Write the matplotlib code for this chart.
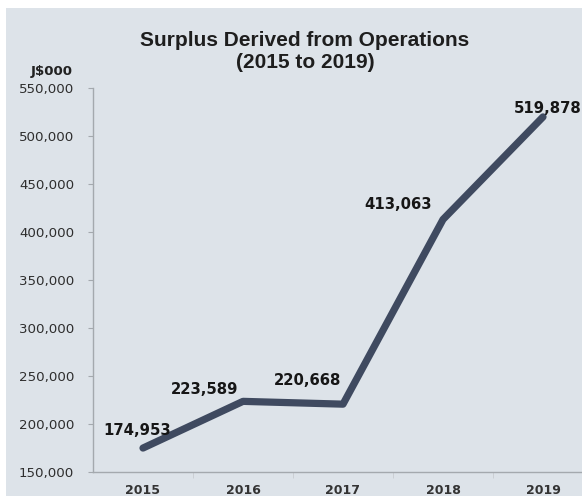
import matplotlib.pyplot as plt
from matplotlib.patches import Rectangle
from matplotlib.ticker import FuncFormatter, FixedLocator

years = ["2015", "2016", "2017", "2018", "2019"]
surplus = [174953, 223589, 220668, 413063, 519878]
# label offsets (pixels) from each point
label_dx = [-6, -38, -35, -45, 5]
label_dy = [18, 12, 24, 15, 8]

bg = "#dde3e9"
line_col = "#3f4a60"

fig = plt.figure(figsize=(5.82, 4.96), dpi=100, facecolor="white")
fig.patches.append(Rectangle((0.01, 0), 0.99, 1 - 8 / 496, transform=fig.transFigure,
                             facecolor=bg, edgecolor="none", zorder=-5))

ax = fig.add_axes([93 / 582, 1 - 472 / 496, 1 - 93 / 582, (472 - 88) / 496])
ax.set_facecolor("none")
ax.set_zorder(2)

x = list(range(len(years)))
ax.plot(x, surplus, color=line_col, lw=5.2, solid_joinstyle="round",
        solid_capstyle="round", zorder=3)

for xi, v, dx, dy in zip(x, surplus, label_dx, label_dy):
    ax.annotate(f"{v:,}", (xi, v), xytext=(dx * 0.72, dy * 0.72),
                textcoords="offset points", ha="center", va="center",
                fontsize=10.7, fontweight="bold", color="#161616",
                family="DejaVu Sans", annotation_clip=False, zorder=4)

ax.set_xlim(-0.5, 4.39)
ax.set_ylim(150000, 550000)
ax.set_yticks(range(150000, 550001, 50000))
ax.yaxis.set_major_formatter(FuncFormatter(lambda v, p: f"{int(v):,}"))
ax.set_xticks(x)
ax.set_xticklabels(years)
ax.xaxis.set_minor_locator(FixedLocator([0.5, 1.5, 2.5, 3.5]))

for s in ["top", "right"]:
    ax.spines[s].set_visible(False)
for s in ["left", "bottom"]:
    ax.spines[s].set_color("#a4a9ae")
    ax.spines[s].set_linewidth(1)

ax.tick_params(axis="y", length=3.6, color="#a4a9ae", pad=10, labelsize=9.6, labelcolor="#2e2e2e")
ax.tick_params(axis="x", which="major", length=0, pad=8.5, labelsize=9)
ax.tick_params(axis="x", which="minor", length=4, color="#c8ccd0")
for t in ax.get_xticklabels():
    t.set_fontweight("bold")
    t.set_color("#333333")

fig.text(305 / 582, 1 - 40 / 496, "Surplus Derived from Operations",
         ha="center", va="center", fontsize=15, fontweight="bold",
         family="Liberation Sans", color="#1e1e1e")
fig.text(305 / 582, 1 - 63 / 496, "(2015 to 2019)",
         ha="center", va="center", fontsize=15, fontweight="bold",
         family="Liberation Sans", color="#1e1e1e")
fig.text(73 / 582, 1 - 72 / 496, "J$000", ha="right", va="center",
         fontsize=9.6, fontweight="bold", color="#222222")

fig.savefig("out.png", dpi=100, facecolor=fig.get_facecolor())
